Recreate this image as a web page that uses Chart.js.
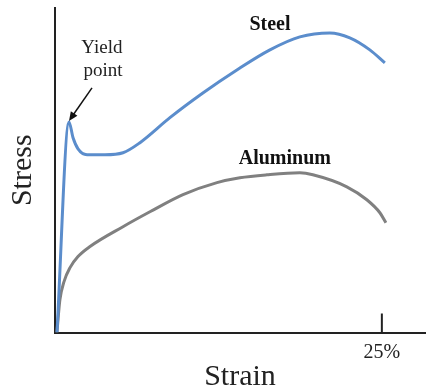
<!DOCTYPE html>
<html><head><meta charset="utf-8">
<script src="https://cdn.jsdelivr.net/npm/chart.js@4/dist/chart.umd.min.js"></script>
<style>html,body{margin:0;padding:0;background:#fff}#wrap{width:427px;height:391px}</style>
</head><body><div id="wrap"><canvas id="c" width="427" height="391"></canvas></div>
<script>
// Strain (%) and stress (relative units, 0-100)
const steelStrain = [0.15, 1.07, 1.38, 1.76, 2.45, 3.82, 5.20, 6.50, 8.79, 11.31, 13.91, 16.44, 18.73, 21.02, 22.55, 24.08, 25.23];
const steelStress = [0, 64.9, 60.0, 56.6, 54.8, 54.8, 55.4, 58.5, 66.2, 73.8, 80.9, 87.1, 91.1, 92.3, 90.8, 87.1, 83.1];
const alStrain = [0.15, 0.23, 0.38, 0.69, 1.15, 1.76, 2.68, 5.20, 7.26, 9.79, 12.39, 14.14, 16.21, 18.73, 19.72, 22.32, 23.85, 24.85, 25.31];
const alStress = [0, 4.0, 10.2, 15.7, 20.0, 23.4, 26.5, 32.6, 37.2, 42.5, 46.2, 47.7, 48.6, 49.2, 48.6, 44.9, 40.9, 36.9, 33.8];
const seriesNames = ['Steel', 'Aluminum'];
const xTickValues = [25];
const xTickLabels = ['25%'];
const axisTitles = {x: 'Strain', y: 'Stress'};
const yieldText = ['Yield', 'point'];

const toPts = (xs, ys) => xs.map((x, i) => ({x, y: ys[i]}));
const SERIF = "'Liberation Serif','Times New Roman',serif";

const annot = {
  id: 'annot',
  afterDatasetsDraw(chart) {
    const {ctx, scales: {x, y}} = chart;
    ctx.save();
    // tick mark at 25%
    ctx.strokeStyle = '#222';
    ctx.lineWidth = 2;
    const tx = x.getPixelForValue(xTickValues[0]);
    ctx.beginPath();
    ctx.moveTo(tx, y.getPixelForValue(0));
    ctx.lineTo(tx, y.getPixelForValue(0) - 19);
    ctx.stroke();
    // series labels
    ctx.fillStyle = '#111';
    ctx.textAlign = 'center';
    ctx.textBaseline = 'middle';
    ctx.font = 'bold 20px ' + SERIF;
    ctx.fillText(seriesNames[0], x.getPixelForValue(16.44), y.getPixelForValue(94.8));
    ctx.fillText(seriesNames[1], x.getPixelForValue(17.58), y.getPixelForValue(53.6));
    // yield point
    ctx.font = '19px ' + SERIF;
    ctx.fillStyle = '#222';
    ctx.fillText(yieldText[0], x.getPixelForValue(3.59), y.getPixelForValue(87.6));
    ctx.fillText(yieldText[1], x.getPixelForValue(3.67), y.getPixelForValue(80.5));
    // arrow
    const x1 = x.getPixelForValue(2.83), y1 = y.getPixelForValue(75.4);
    const x2 = x.getPixelForValue(1.07), y2 = y.getPixelForValue(64.9) - 1;
    const ang = Math.atan2(y2 - y1, x2 - x1);
    ctx.strokeStyle = '#111';
    ctx.lineWidth = 1.5;
    ctx.beginPath();
    ctx.moveTo(x1, y1);
    ctx.lineTo(x2 - 6 * Math.cos(ang), y2 - 6 * Math.sin(ang));
    ctx.stroke();
    ctx.fillStyle = '#111';
    ctx.beginPath();
    ctx.moveTo(x2, y2);
    ctx.lineTo(x2 - 9 * Math.cos(ang) + 4 * Math.sin(ang), y2 - 9 * Math.sin(ang) - 4 * Math.cos(ang));
    ctx.lineTo(x2 - 9 * Math.cos(ang) - 4 * Math.sin(ang), y2 - 9 * Math.sin(ang) + 4 * Math.cos(ang));
    ctx.closePath();
    ctx.fill();
    ctx.restore();
  }
};

new Chart(document.getElementById('c'), {
  type: 'scatter',
  data: {
    datasets: [
      {label: seriesNames[0], data: toPts(steelStrain, steelStress), showLine: true, borderColor: '#5b8dcc', borderWidth: 3, pointRadius: 0, cubicInterpolationMode: 'monotone', fill: false},
      {label: seriesNames[1], data: toPts(alStrain, alStress), showLine: true, borderColor: '#808080', borderWidth: 3, pointRadius: 0, cubicInterpolationMode: 'monotone', fill: false}
    ]
  },
  options: {
    responsive: false,
    animation: false,
    devicePixelRatio: 1,
    layout: {padding: {top: 8, right: 2, left: 0, bottom: 0}},
    plugins: {legend: {display: false}, tooltip: {enabled: false}},
    scales: {
      x: {
        type: 'linear', min: 0, max: 28.3,
        afterBuildTicks: s => { s.ticks = xTickValues.map(v => ({value: v})); },
        ticks: {
          padding: 10, color: '#222', maxRotation: 0, autoSkip: false,
          font: {family: SERIF, size: 20, lineHeight: 1.0},
          callback: (v) => xTickLabels[xTickValues.indexOf(v)] ?? ''
        },
        grid: {display: false, drawTicks: false},
        border: {display: true, color: '#222', width: 2},
        title: {display: true, text: axisTitles.x, color: '#222', font: {family: SERIF, size: 30, lineHeight: 0.3}, padding: {top: 0, bottom: 9.5}}
      },
      y: {
        min: 0, max: 100,
        ticks: {display: false},
        grid: {display: false, drawTicks: false},
        border: {display: true, color: '#222', width: 2},
        title: {display: true, text: axisTitles.y, color: '#222', font: {family: SERIF, size: 30, lineHeight: 1.2}, padding: {top: 5, bottom: 14}}
      }
    }
  },
  plugins: [annot]
});
</script>
</body></html>
